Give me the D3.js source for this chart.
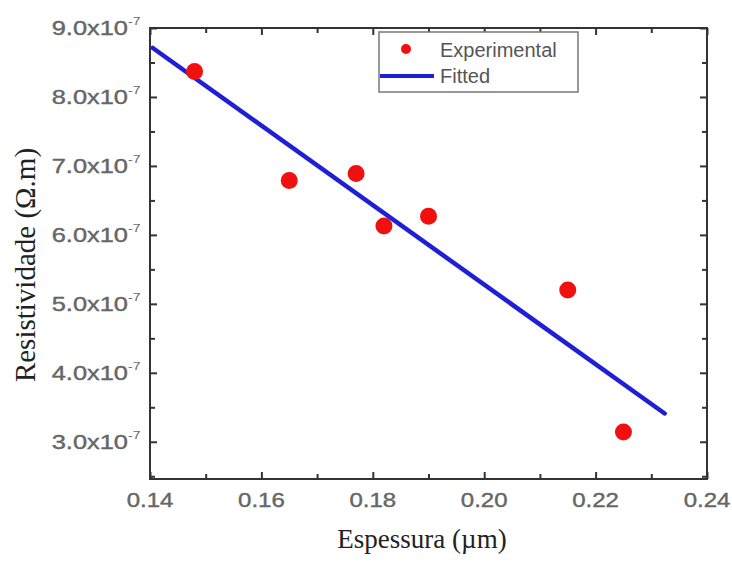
<!DOCTYPE html>
<html>
<head>
<meta charset="utf-8">
<script src="https://cdn.jsdelivr.net/npm/d3@7"></script>
<style>
  html, body { margin: 0; padding: 0; background: #fff; }
  svg { display: block; }
</style>
</head>
<body>
<svg id="chart" width="732" height="564"></svg>
<script>
// Measured thickness (µm) and resistivity (Ω.m)
const thickness = [0.148, 0.165, 0.177, 0.182, 0.190, 0.215, 0.225];
const resistivity = [8.37e-7, 6.79e-7, 6.89e-7, 6.13e-7, 6.27e-7, 5.20e-7, 3.14e-7];

// Linear fit endpoints
const fitX = [0.1405, 0.2324];
const fitY = [8.71e-7, 3.41e-7];

// Axis ticks
const xTicks = [0.14, 0.16, 0.18, 0.20, 0.22, 0.24];
const xMinor = [0.15, 0.17, 0.19, 0.21, 0.23];
const yTicks = [3e-7, 4e-7, 5e-7, 6e-7, 7e-7, 8e-7, 9e-7];
const yMinor = [2.5e-7, 3.5e-7, 4.5e-7, 5.5e-7, 6.5e-7, 7.5e-7, 8.5e-7];

const legendLabels = ["Experimental", "Fitted"];

const svg = d3.select("#chart");
const L = 150, R = 707, T = 28, B = 479;

const x = d3.scaleLinear().domain([0.14, 0.24]).range([L, R]);
const y = d3.scaleLinear().domain([2.46e-7, 9.0e-7]).range([B, T]);

const axisColor = "#333";
const labelColor = "#666";
const sans = "'Liberation Sans', Arial, sans-serif";
const serif = "'Liberation Serif', 'Times New Roman', serif";

// Frame
svg.append("rect")
  .attr("x", L).attr("y", T).attr("width", R - L).attr("height", B - T)
  .attr("fill", "none").attr("stroke", axisColor).attr("stroke-width", 2);

// Inward ticks on all four sides
function drawTicks(axisGen, transform, values, size) {
  const g = svg.append("g").attr("transform", transform)
    .call(axisGen.tickValues(values).tickSize(size).tickFormat(""));
  g.select(".domain").remove();
  g.selectAll("line").attr("stroke", axisColor).attr("stroke-width", 2);
}
drawTicks(d3.axisTop(x), `translate(0,${B})`, xTicks, 7);
drawTicks(d3.axisTop(x), `translate(0,${B})`, xMinor, 5);
drawTicks(d3.axisBottom(x), `translate(0,${T})`, xTicks, 7);
drawTicks(d3.axisBottom(x), `translate(0,${T})`, xMinor, 5);
drawTicks(d3.axisRight(y), `translate(${L},0)`, yTicks, 7);
drawTicks(d3.axisRight(y), `translate(${L},0)`, yMinor, 5);
drawTicks(d3.axisLeft(y), `translate(${R},0)`, yTicks, 7);
drawTicks(d3.axisLeft(y), `translate(${R},0)`, yMinor, 5);

// X tick labels (slightly widened glyphs)
svg.append("g").selectAll("text").data(xTicks).join("text")
  .attr("transform", d => `translate(${x(d)},${B + 28}) scale(1.2,1)`)
  .attr("text-anchor", "middle")
  .attr("font-family", sans).attr("font-size", 20).attr("fill", labelColor)
  .attr("stroke", labelColor).attr("stroke-width", 0.4)
  .text(d => d.toFixed(2));

// Y tick labels with scientific notation
const yl = svg.append("g").selectAll("g").data(yTicks).join("g")
  .attr("transform", d => `translate(${L - 22},${y(d) + 7}) scale(1.27,1)`);
yl.append("text")
  .attr("text-anchor", "end")
  .attr("font-family", sans).attr("font-size", 20).attr("fill", labelColor)
  .attr("stroke", labelColor).attr("stroke-width", 0.4)
  .text(d => (d * 1e7).toFixed(1) + "x10");
yl.append("text")
  .attr("x", 0).attr("y", -10)
  .attr("font-family", sans).attr("font-size", 11).attr("fill", labelColor)
  .text("-7");

// Fitted line
svg.append("line")
  .attr("x1", x(fitX[0])).attr("y1", y(fitY[0]))
  .attr("x2", x(fitX[1])).attr("y2", y(fitY[1]))
  .attr("stroke", "#1f1fd6").attr("stroke-width", 4.5).attr("stroke-linecap", "round");

// Experimental points
svg.append("g").selectAll("circle").data(thickness).join("circle")
  .attr("cx", d => x(d)).attr("cy", (d, i) => y(resistivity[i]))
  .attr("r", 8.5).attr("fill", "#f01010");

// Legend
const lg = svg.append("g");
lg.append("rect").attr("x", 379).attr("y", 32).attr("width", 199).attr("height", 60)
  .attr("fill", "#fff").attr("stroke", "#777").attr("stroke-width", 1.5);
lg.append("circle").attr("cx", 406).attr("cy", 49).attr("r", 5).attr("fill", "#f01010");
lg.append("line").attr("x1", 380).attr("x2", 434).attr("y1", 76).attr("y2", 76)
  .attr("stroke", "#1f1fd6").attr("stroke-width", 4);
lg.selectAll("text").data(legendLabels).join("text")
  .attr("x", 440).attr("y", (d, i) => 57 + i * 26)
  .attr("font-family", sans).attr("font-size", 20).attr("fill", "#555")
  .text(d => d);

// Axis titles
svg.append("text")
  .attr("x", 422).attr("y", 548)
  .attr("text-anchor", "middle")
  .attr("font-family", serif).attr("font-size", 27).attr("fill", "#222")
  .text("Espessura (µm)");
svg.append("text")
  .attr("transform", `translate(35,265) rotate(-90)`)
  .attr("text-anchor", "middle")
  .attr("font-family", serif).attr("font-size", 29).attr("fill", "#222")
  .text("Resistividade (Ω.m)");
</script>
</body>
</html>
